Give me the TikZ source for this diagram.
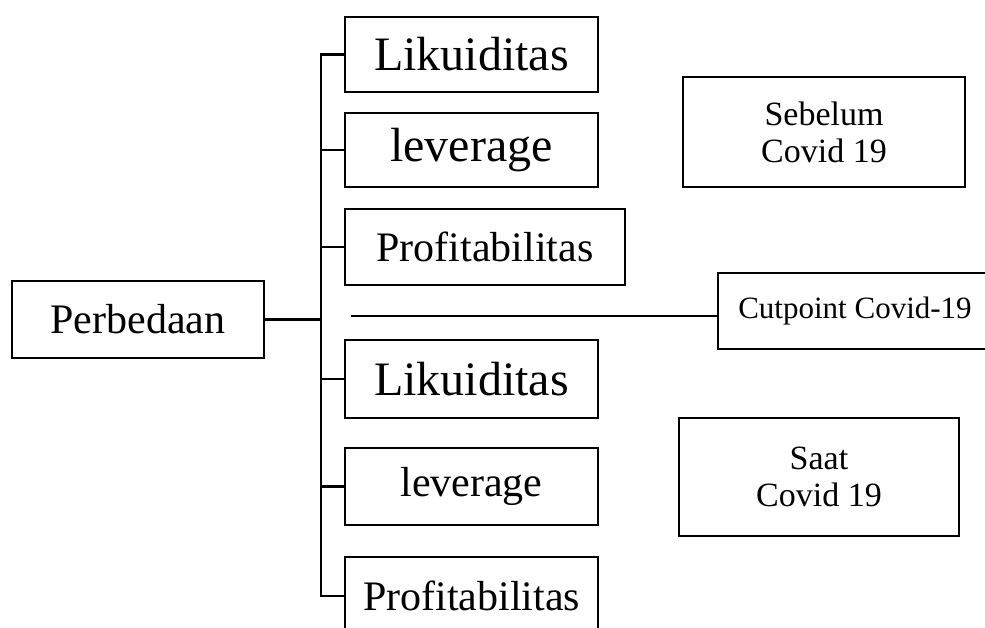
\documentclass[tikz,border=0pt]{standalone}
\usepackage{fontspec}
\setmainfont{Liberation Serif}
\usepackage{tikz}

\tikzset{
    kotak/.style={draw, black, line width=2pt, inner sep=0pt, align=center},
    cabang/.style={black, line width=2.4pt},
    besar/.style={font=\fontsize{48}{52}\selectfont},
    sedang/.style={font=\fontsize{42}{46}\selectfont},
    kecil/.style={font=\fontsize{34}{37}\selectfont},
}

\begin{document}
\begin{tikzpicture}[x=1pt, y=-1pt]

                \useasboundingbox (0,0) rectangle (985,628);

                \node[kotak, sedang, minimum width=252pt, minimum height=77pt] (perbedaan) at (138,319.5) {Perbedaan};

                \node[kotak, besar, minimum width=253pt, minimum height=75pt] (lik1) at (471.5,54.5) {Likuiditas};
                \node[kotak, besar, minimum width=253pt, minimum height=74pt] (lev1) at (471.5,150) {leverage};
                \node[kotak, sedang, minimum width=280pt, minimum height=76pt] (prof1) at (485,247) {Profitabilitas};
                \node[kotak, besar, minimum width=253pt, minimum height=78pt] (lik2) at (471.5,379) {Likuiditas};
                \node[kotak, sedang, minimum width=253pt, minimum height=77pt] (lev2) at (471.5,486.5) {leverage};
                \node[kotak, sedang, minimum width=253pt, minimum height=78pt] (prof2) at (471.5,596) {Profitabilitas};

                \node[kotak, kecil, minimum width=282pt, minimum height=110pt] (sebelum) at (824,132) {Sebelum\\Covid 19};
                \node[kotak, font=\fontsize{31}{34}\selectfont, minimum width=274pt, minimum height=76pt] (cutpoint) at (855,311) {Cutpoint Covid-19};
                \node[kotak, kecil, minimum width=280pt, minimum height=118pt] (saat) at (819,477) {Saat\\Covid 19};

                \coordinate (sumbu) at (321,319.5);
                \coordinate (garis) at (351,316);

                \draw[cabang] (perbedaan.east) -- (sumbu);
                \draw[cabang] (lik1.west) -| (sumbu) |- (prof2.west);
                \foreach \n in {lev1,prof1,lik2,lev2}
                    \draw[cabang] (\n.west) -- (\n.west -| sumbu);

                \draw[black, line width=1.1pt] (garis) -- (garis -| cutpoint.west);

\end{tikzpicture}
\end{document}
